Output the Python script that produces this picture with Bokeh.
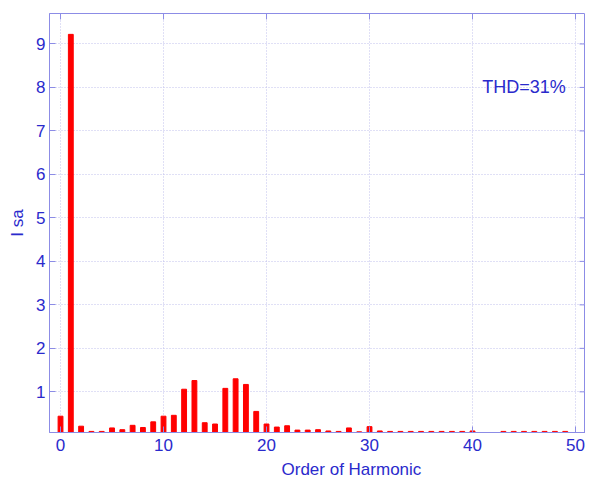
from bokeh.plotting import figure
from bokeh.models import Range1d, FixedTicker, Label, ColumnDataSource, Title
from bokeh.embed import file_html
from bokeh.resources import INLINE

orders = list(range(0, 51))
magnitudes = [0.44, 9.22, 0.21, 0.09, 0.09, 0.17, 0.13, 0.23, 0.18, 0.31,
              0.44, 0.46, 1.06, 1.26, 0.29, 0.26, 1.08, 1.3, 1.17, 0.55,
              0.26, 0.19, 0.22, 0.12, 0.12, 0.13, 0.1, 0.09, 0.17, 0.08,
              0.2, 0.1, 0.09, 0.09, 0.09, 0.09, 0.09, 0.09, 0.09, 0.09,
              0.1, 0.0, 0.0, 0.09, 0.09, 0.09, 0.09, 0.09, 0.09, 0.09,
              0.0]
x_ticks = [0, 10, 20, 30, 40, 50]
y_ticks = [1, 2, 3, 4, 5, 6, 7, 8, 9]
x_label = "Order of Harmonic"
y_label = "I sa"
annotation = "THD=31%"

TEXT = "#2a2acc"
AXIS = "#8c8ce6"
GRID = "#c0c0ec"
FONT = "Liberation Sans"

X0, X1 = -1.07, 50.97
Y0, Y1 = 0.065, 9.70

p = figure(width=585, height=482, output_backend="svg", toolbar_location=None,
           x_range=Range1d(X0, X1), y_range=Range1d(Y0, Y1),
           min_border_left=49, min_border_right=0, min_border_top=13,
           min_border_bottom=47, background_fill_color="white",
           border_fill_color="white")

src = ColumnDataSource(dict(x=orders, top=magnitudes))
p.vbar(x="x", top="top", bottom=0, width=0.47, source=src,
       fill_color="#ff0000", line_color="#ff0000")

p.outline_line_color = AXIS
p.outline_line_width = 1

for ax in p.axis:
    ax.axis_line_color = AXIS
    ax.major_tick_line_color = AXIS
    ax.major_tick_in = 6
    ax.major_tick_out = 0
    ax.minor_tick_line_color = None
    ax.major_label_text_color = TEXT
    ax.major_label_text_font = FONT
    ax.major_label_text_font_size = "17px"
    ax.axis_label_text_color = TEXT
    ax.axis_label_text_font = FONT
    ax.axis_label_text_font_size = "17px"
    ax.axis_label_text_font_style = "normal"

p.xaxis.ticker = FixedTicker(ticks=x_ticks)
p.yaxis.ticker = FixedTicker(ticks=y_ticks)
p.xaxis.major_label_standoff = 6
p.yaxis.major_label_standoff = 4
p.yaxis.axis_label = y_label
p.yaxis.axis_label_standoff = 6

# inward box ticks on top and right edges (6 px long)
px_per_x = (585 - 49) / (X1 - X0)
px_per_y = (435 - 13) / (Y1 - Y0)
p.segment(x0=x_ticks, x1=x_ticks, y0=[Y1] * len(x_ticks),
          y1=[Y1 - 6 / px_per_y] * len(x_ticks), line_color=AXIS, line_width=1)
p.segment(x0=[X1] * len(y_ticks), x1=[X1 - 6 / px_per_x] * len(y_ticks),
          y0=y_ticks, y1=y_ticks, line_color=AXIS, line_width=1)

p.xgrid.ticker = FixedTicker(ticks=x_ticks)
p.ygrid.ticker = FixedTicker(ticks=y_ticks)
p.grid.grid_line_color = GRID
p.grid.grid_line_dash = "1 2"
p.grid.grid_line_width = 1

p.add_layout(Label(x=45, y=8.0, text=annotation, text_align="center",
                   text_baseline="middle", text_color=TEXT, text_font=FONT,
                   text_font_size="18px"))

p.add_layout(Title(text=x_label, align="left", offset=232, standoff=8,
                   text_color=TEXT, text_font=FONT, text_font_size="17px",
                   text_font_style="normal"), "below")

open("out.html", "w").write(file_html(p, INLINE))
